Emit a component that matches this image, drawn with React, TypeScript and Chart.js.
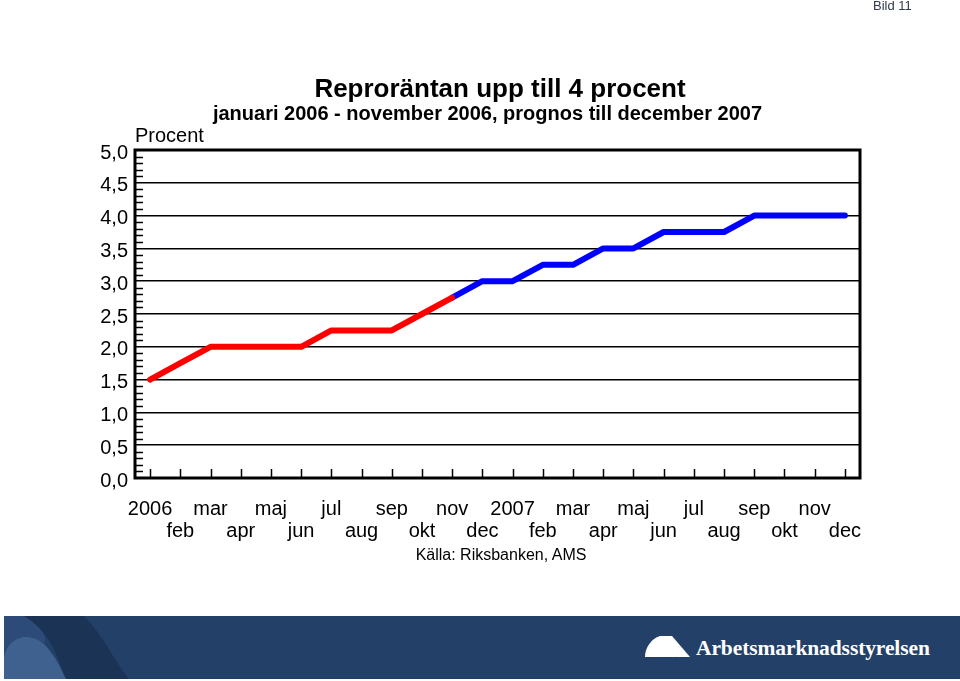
import React, { useEffect, useRef } from "react";
import { Chart, registerables } from "chart.js";

Chart.register(...registerables);

const months: string[][] = [
  ["2006", ""], ["", "feb"], ["mar", ""], ["", "apr"], ["maj", ""], ["", "jun"],
  ["jul", ""], ["", "aug"], ["sep", ""], ["", "okt"], ["nov", ""], ["", "dec"],
  ["2007", ""], ["", "feb"], ["mar", ""], ["", "apr"], ["maj", ""], ["", "jun"],
  ["jul", ""], ["", "aug"], ["sep", ""], ["", "okt"], ["nov", ""], ["", "dec"],
];

const outcome: (number | null)[] = [
  1.5, 1.75, 2.0, 2.0, 2.0, 2.0, 2.25, 2.25, 2.25, 2.5, 2.75,
  null, null, null, null, null, null, null, null, null, null, null, null, null,
];

const forecast: (number | null)[] = [
  null, null, null, null, null, null, null, null, null, null, 2.75,
  3.0, 3.0, 3.25, 3.25, 3.5, 3.5, 3.75, 3.75, 3.75, 4.0, 4.0, 4.0, 4.0,
];

const yMin = 0;
const yMax = 5;
const yStep = 0.5;
const yMinorStep = 0.1;

const FONT = "'Liberation Sans', Arial, Helvetica, sans-serif";

const framePlugin = {
  id: "frame",
  afterDraw(chart: any) {
    const { ctx, chartArea, scales } = chart;
    const ys = scales.y;
    const xs = scales.x;
    ctx.save();
    ctx.strokeStyle = "#000";
    ctx.lineWidth = 1.5;
    const n = Math.round((yMax - yMin) / yMinorStep);
    for (let i = 1; i < n; i++) {
      if (i % 5 === 0) continue;
      const v = yMin + i * yMinorStep;
      const py = Math.round(ys.getPixelForValue(v)) + 0.5;
      ctx.beginPath();
      ctx.moveTo(chartArea.left, py);
      ctx.lineTo(chartArea.left + 8, py);
      ctx.stroke();
    }
    for (let i = 0; i < months.length; i++) {
      const px = Math.round(xs.getPixelForValue(i)) + 0.5;
      ctx.beginPath();
      ctx.moveTo(px, chartArea.bottom);
      ctx.lineTo(px, chartArea.bottom - 9);
      ctx.stroke();
    }
    ctx.lineWidth = 3;
    ctx.strokeRect(chartArea.left, chartArea.top, chartArea.right - chartArea.left, chartArea.bottom - chartArea.top);
    ctx.restore();
  },
};

function ChartCanvas() {
  const ref = useRef<HTMLCanvasElement | null>(null);
  useEffect(() => {
    if (!ref.current) return;
    const chart = new Chart(ref.current, {
      type: "line",
      data: {
        labels: months,
        datasets: [
          {
            label: "Utfall",
            data: outcome,
            borderColor: "#ff0000",
            backgroundColor: "#ff0000",
            borderWidth: 6,
            pointRadius: 0,
            borderCapStyle: "round",
            borderJoinStyle: "round",
            spanGaps: false,
            tension: 0,
          },
          {
            label: "Prognos",
            data: forecast,
            borderColor: "#0000ff",
            backgroundColor: "#0000ff",
            borderWidth: 6,
            pointRadius: 0,
            borderCapStyle: "round",
            borderJoinStyle: "round",
            spanGaps: false,
            tension: 0,
          },
        ],
      },
      options: {
        animation: false,
        responsive: false,
        devicePixelRatio: 1,
        layout: { padding: { top: 150, right: 100, bottom: 0, left: 0 } },
        plugins: {
          legend: { display: false },
          title: { display: false },
          tooltip: { enabled: false },
        },
        scales: {
          x: {
            type: "category",
            offset: true,
            grid: { display: false, drawTicks: false },
            border: { display: false },
            ticks: {
              autoSkip: false,
              maxRotation: 0,
              minRotation: 0,
              padding: 20,
              color: "#000",
              font: { family: FONT, size: 20, lineHeight: 1.1 },
            },
            afterFit(scale: any) {
              scale.height = 82;
            },
          },
          y: {
            min: yMin,
            max: yMax,
            grid: { color: "#000", lineWidth: 1.5, drawTicks: false },
            border: { display: false },
            ticks: {
              stepSize: yStep,
              padding: 7,
              labelOffset: 3,
              color: "#000",
              font: { family: FONT, size: 20 },
              callback: (v: any) => Number(v).toFixed(1).replace(".", ","),
            },
            afterFit(scale: any) {
              scale.width = 135;
            },
          },
        },
      },
      plugins: [framePlugin],
    });
    return () => chart.destroy();
  }, []);
  return (
    <canvas
      ref={ref}
      width={960}
      height={560}
      style={{ position: "absolute", left: 0, top: 0, width: 960, height: 560 }}
    />
  );
}

export default function App() {
  return (
    <div
      style={{
        position: "absolute",
        left: 0,
        top: 0,
        width: 960,
        height: 681,
        background: "#fff",
        overflow: "hidden",
        fontFamily: FONT,
      }}
    >
      <ChartCanvas />
      <div style={{ position: "absolute", left: 873, top: -2, fontSize: 13, color: "#2f3a4d" }}>Bild 11</div>
      <div
        style={{
          position: "absolute",
          left: 0,
          width: 1000,
          top: 73,
          textAlign: "center",
          fontSize: 26,
          fontWeight: "bold",
          lineHeight: "30px",
          color: "#000",
        }}
      >
        Reproräntan upp till 4 procent
      </div>
      <div
        style={{
          position: "absolute",
          left: 0,
          width: 975,
          top: 101,
          textAlign: "center",
          fontSize: 20,
          fontWeight: "bold",
          lineHeight: "24px",
          color: "#000",
        }}
      >
        januari 2006 - november 2006, prognos till december 2007
      </div>
      <div style={{ position: "absolute", left: 135, top: 123, fontSize: 20, lineHeight: "24px", color: "#000" }}>
        Procent
      </div>
      <div
        style={{
          position: "absolute",
          left: 0,
          width: 1002,
          top: 545,
          textAlign: "center",
          fontSize: 16,
          lineHeight: "20px",
          color: "#000",
        }}
      >
        Källa: Riksbanken, AMS
      </div>
      <div
        style={{
          position: "absolute",
          left: 4,
          top: 616,
          width: 956,
          height: 63,
          background: "#234068",
          overflow: "hidden",
        }}
      >
        <svg width={956} height={63} style={{ position: "absolute", left: 0, top: 0 }}>
          <path d="M 20 0 L 80 0 C 100 20, 110 45, 125 63 L 60 63 C 55 40, 45 15, 20 0 Z" fill="#1b3355" />
          <path d="M 0 63 L 0 40 C 5 20, 25 15, 40 28 C 52 40, 58 55, 62 63 Z" fill="#3f618f" />
          <path d="M 0 0 L 20 0 C 35 10, 45 20, 40 28 C 25 15, 5 20, 0 40 Z" fill="#2c4b78" />
          <path d="M 641 41 C 641 30, 650 20, 658 20 C 664 20, 668 28, 672 41 Z" fill="#fff" />
          <path d="M 655 20 L 668 20 L 686 41 L 672 41 Z" fill="#fff" />
        </svg>
        <div
          style={{
            position: "absolute",
            left: 692,
            top: 19,
            fontFamily: "'Liberation Serif', 'Times New Roman', serif",
            fontWeight: "bold",
            fontSize: 21.5,
            lineHeight: "26px",
            color: "#fff",
            letterSpacing: -0.1,
          }}
        >
          Arbetsmarknadsstyrelsen
        </div>
      </div>
    </div>
  );
}
